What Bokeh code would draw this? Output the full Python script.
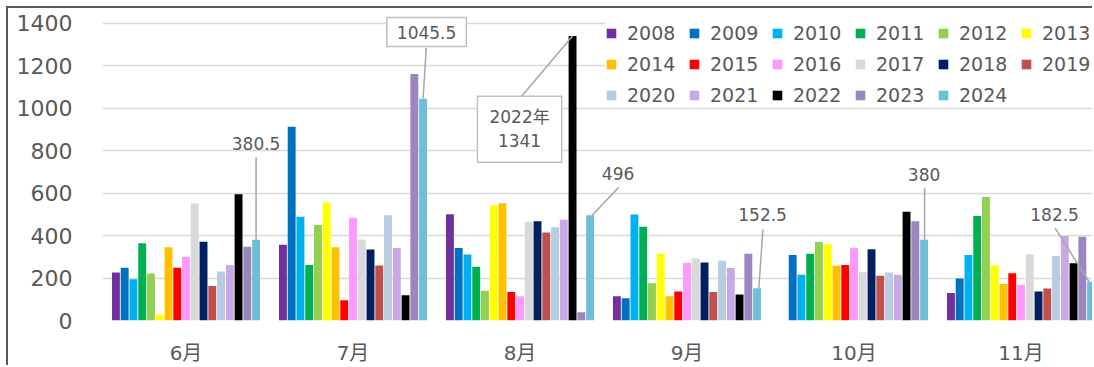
from bokeh.plotting import figure
from bokeh.models import (ColumnDataSource, Range1d, FixedTicker, Legend, LegendItem,
                          Label)
from bokeh.transform import dodge
from bokeh.embed import file_html
from bokeh.resources import INLINE

# ---- data -------------------------------------------------------------
months = ["6月", "7月", "8月", "9月", "10月", "11月"]
years = ["2008", "2009", "2010", "2011", "2012", "2013", "2014", "2015", "2016",
         "2017", "2018", "2019", "2020", "2021", "2022", "2023", "2024"]

v2008 = [226, 357, 501, 114, 0, 130]
v2009 = [248, 913, 342, 105, 309, 198]
v2010 = [194, 489, 311, 499, 215, 309]
v2011 = [364, 262, 253, 442, 315, 492]
v2012 = [222, 450, 140, 176, 370, 582]
v2013 = [28, 556, 542, 314, 359, 259]
v2014 = [345, 345, 553, 114, 258, 172]
v2015 = [248, 95, 134, 137, 261, 223]
v2016 = [300, 484, 114, 272, 343, 169]
v2017 = [551, 382, 465, 293, 229, 312]
v2018 = [371, 334, 468, 273, 336, 137]
v2019 = [162, 259, 415, 134, 211, 151]
v2020 = [231, 496, 439, 281, 226, 304]
v2021 = [262, 342, 475, 247, 215, 398]
v2022 = [595, 119, 1341, 122, 512, 270]
v2023 = [348, 1161, 39, 315, 468, 395]
v2024 = [380.5, 1045.5, 496, 152.5, 380, 182.5]

series = [v2008, v2009, v2010, v2011, v2012, v2013, v2014, v2015, v2016,
          v2017, v2018, v2019, v2020, v2021, v2022, v2023, v2024]

y_ticks = [0, 200, 400, 600, 800, 1000, 1200, 1400]

# ---- styling ----------------------------------------------------------
colors = ["#7030A0", "#0070C0", "#00B0F0", "#00B050", "#92D050", "#FFFF00",
          "#FFC000", "#FF0000", "#FF99FF", "#D9D9D9", "#002060", "#C0504D",
          "#B8CCE4", "#C9A8E6", "#000000", "#9B86C0", "#6DBFD6"]

# callouts: (month index, year, label dx/dy, leader start dx/dy, leader end dx/dy, boxed)
# offsets in pixels from the top centre of the bar, dy positive = up
callouts = [
    (0, "2024", (0, 97), (0, 83), (0, 0), False),
    (1, "2024", (3.5, 67), (3.2, 51), (0, 0), True),
    (2, "2022", (-53, -94), (-52, -62), (0, 0), True),
    (2, "2024", (28, 42), (28.5, 28), (2, 0), False),
    (3, "2024", (5.5, 74), (5.8, 59), (1.8, 0), False),
    (4, "2024", (0, 66), (0.5, 52.5), (0.5, 0), False),
    (5, "2024", (-36.5, 68), (-36, 54), (-2, 0), False),
]

# outer offset of the chart area (margin + border)
OFF = 8
W, H = 1094 - OFF, 367 - OFF
LEFT, TOP, BOTTOM = 102 - OFF, 0, 45
PX_PER_GROUP = 167.0
SLOT = 8.76 / PX_PER_GROUP          # one bar slot in x units
BAR_W = 7.9 / PX_PER_GROUP
AXIS_MAX = 1400
AXIS_PX = 299.0                     # pixel height of 0..1400
PX_PER_UNIT_Y = AXIS_PX / AXIS_MAX

frame_w = W - LEFT
frame_h = H - TOP - BOTTOM
x_start = -0.5

data = {"idx": list(range(len(months)))}
for y, vals in zip(years, series):
    data[y] = vals
source = ColumnDataSource(data)

p = figure(width=W, height=H, output_backend="svg", toolbar_location=None,
           x_range=Range1d(x_start, x_start + frame_w / PX_PER_GROUP),
           y_range=Range1d(0, frame_h / PX_PER_UNIT_Y),
           min_border_left=LEFT, min_border_right=0,
           min_border_top=TOP, min_border_bottom=BOTTOM,
           background_fill_color="white", border_fill_color="white",
           margin=(6, 0, 0, 6),
           styles={"border-top": "2px solid #595959", "border-left": "2px solid #595959"})
p.outline_line_color = None

renderers = []
n = len(years)
for i, (y, c) in enumerate(zip(years, colors)):
    off = (i - (n - 1) / 2) * SLOT
    r = p.vbar(x=dodge("idx", off, range=p.x_range), top=y, width=BAR_W,
               source=source, fill_color=c, line_color=None)
    renderers.append(r)

# axes
p.yaxis.ticker = FixedTicker(ticks=y_ticks)
p.yaxis.axis_line_color = None
p.yaxis.major_tick_line_color = None
p.yaxis.minor_tick_line_color = None
p.yaxis.major_tick_out = 0
p.yaxis.major_label_standoff = 30
p.yaxis.major_label_text_font = "DejaVu Sans"
p.yaxis.major_label_text_font_size = "22px"
p.yaxis.major_label_text_color = "#595959"

p.xaxis.ticker = FixedTicker(ticks=list(range(len(months))))
p.xaxis.major_label_overrides = {i: m for i, m in enumerate(months)}
p.xaxis.axis_line_color = None
p.xaxis.major_tick_line_color = None
p.xaxis.minor_tick_line_color = None
p.xaxis.major_tick_out = 0
p.xaxis.major_label_standoff = 20
p.xaxis.major_label_text_font = "DejaVu Sans, Noto Sans CJK SC"
p.xaxis.major_label_text_font_size = "20px"
p.xaxis.major_label_text_color = "#595959"

p.xgrid.visible = False
p.ygrid.grid_line_color = "#D9D9D9"
p.ygrid.grid_line_width = 1.5

# legend
legend = Legend(items=[LegendItem(label=y, renderers=[r]) for y, r in zip(years, renderers)],
                orientation="horizontal", ncols=6, location=(503, 214),
                glyph_width=12, glyph_height=12, label_standoff=10,
                label_width=52, label_height=22, spacing=9, padding=11, margin=0,
                label_text_font="DejaVu Sans", label_text_font_size="19px",
                label_text_color="#595959", border_line_color=None,
                background_fill_color="white", background_fill_alpha=1.0)
p.add_layout(legend)

# callouts with leader lines
seg = dict(x0=[], y0=[], x1=[], y1=[])
for m, yr, (ldx, ldy), (sdx, sdy), (edx, edy), boxed in callouts:
    k = years.index(yr)
    v = series[k][m]
    bx = m + (k - (n - 1) / 2) * SLOT
    seg["x0"].append(bx + sdx / PX_PER_GROUP)
    seg["y0"].append(v + sdy / PX_PER_UNIT_Y)
    seg["x1"].append(bx + edx / PX_PER_GROUP)
    seg["y1"].append(v + edy / PX_PER_UNIT_Y)
    text = f"{v:g}" if yr == "2024" else f"{yr}年\n{v:g}"
    lab = Label(x=bx + ldx / PX_PER_GROUP, y=v + ldy / PX_PER_UNIT_Y, text=text,
                text_align="center", text_baseline="middle",
                text_font="DejaVu Sans, Noto Sans CJK SC", text_font_size="17px",
                text_color="#595959", text_line_height=1.2)
    if boxed:
        lab.border_line_color = "#BFBFBF"
        lab.border_line_width = 1.5
        lab.background_fill_color = "white"
        lab.padding = dict(left=10, right=10, top=8, bottom=8) if yr == "2024" \
            else dict(left=12, right=12, top=11, bottom=11)
    p.add_layout(lab)

p.segment(x0="x0", y0="y0", x1="x1", y1="y1", source=ColumnDataSource(seg),
          line_color="#A6A6A6", line_width=1.5)

open("out.html", "w").write(file_html(p, INLINE))
